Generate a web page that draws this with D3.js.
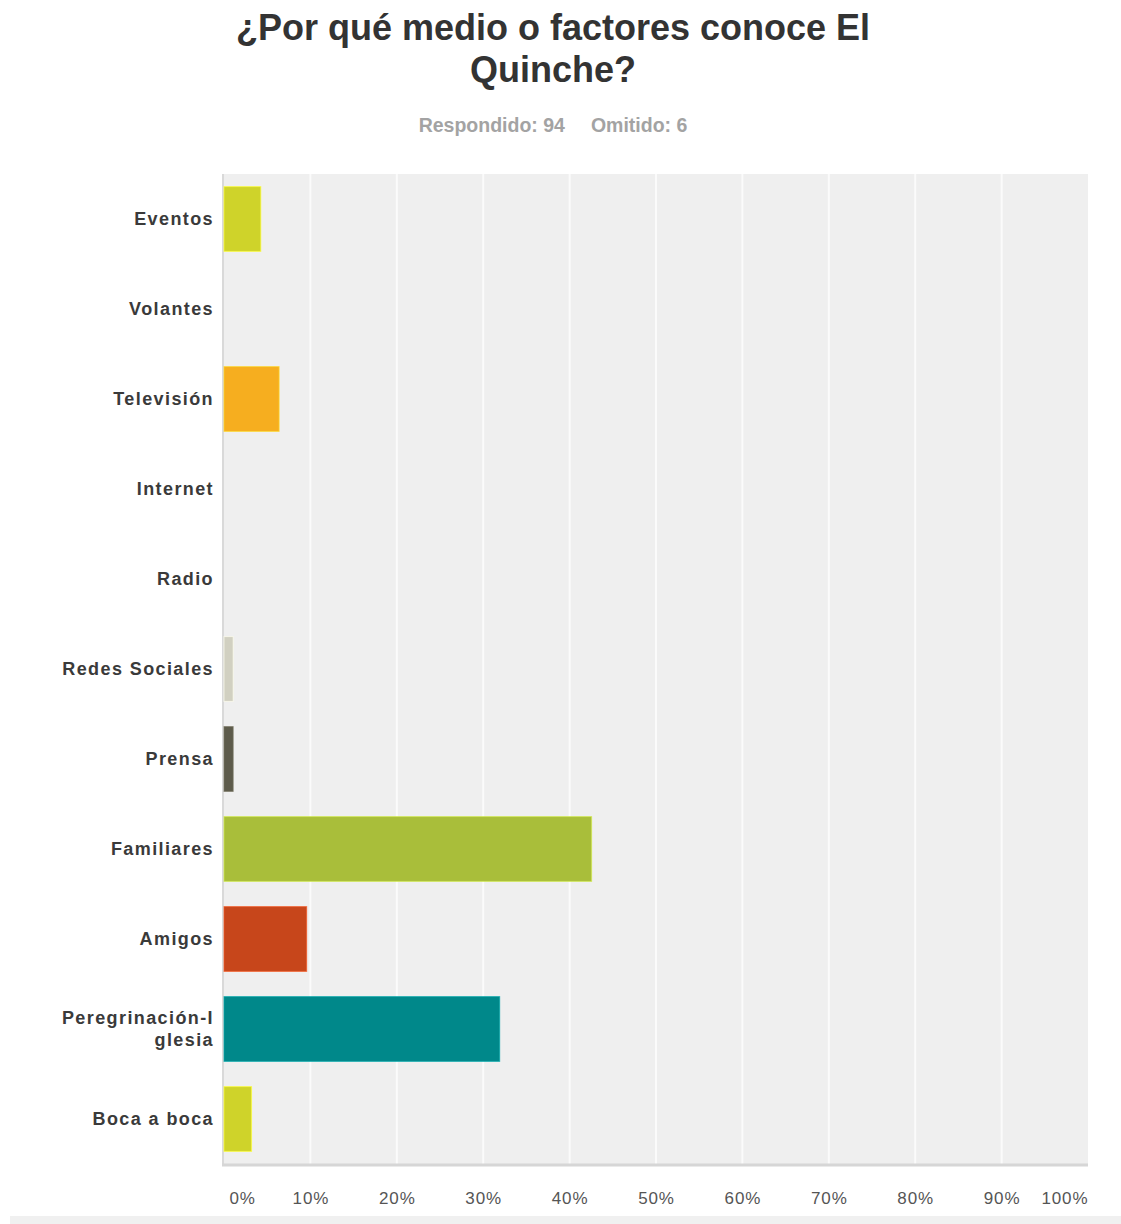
<!DOCTYPE html>
<html>
<head>
<meta charset="utf-8">
<script src="https://cdn.jsdelivr.net/npm/d3@7"></script>
<style>
  html, body { margin: 0; padding: 0; background: #ffffff; }
  svg { display: block; }
</style>
</head>
<body>
<svg id="chart" width="1121" height="1224"></svg>
<script>
// Survey answers: share of respondents per source (94 answered, 6 skipped)
const categories = [
  "Eventos", "Volantes", "Televisión", "Internet", "Radio",
  "Redes Sociales", "Prensa", "Familiares", "Amigos",
  "Peregrinación-Iglesia", "Boca a boca"
];
const percentages = [4.26, 0, 6.38, 0, 0, 1.06, 1.06, 42.55, 9.57, 31.91, 3.19];
const barColors = [
  "#cfd32a", "#cfd32a", "#f6ae1f", "#cfd32a", "#cfd32a",
  "#d1d0c1", "#5d5b4b", "#a9be3a", "#c7461b", "#00888a", "#cfd32a"
];
const tickValues = [0, 10, 20, 30, 40, 50, 60, 70, 80, 90, 100];
const titleLines = ["¿Por qué medio o factores conoce El", "Quinche?"];
const answeredText = "Respondido: 94";
const skippedText = "Omitido: 6";

const svg = d3.select("#chart");
const plot = { left: 224, right: 1088, top: 174, bottom: 1164 };

const x = d3.scaleLinear().domain([0, 100]).range([plot.left, plot.right]);
const y = d3.scaleBand().domain(categories)
  .range([plot.top, plot.bottom])
  .paddingInner(0.28).paddingOuter(0.14);

// Title
svg.append("g").selectAll("text").data(titleLines).join("text")
  .attr("x", 553).attr("y", (d, i) => 40 + i * 42)
  .attr("text-anchor", "middle")
  .attr("font-family", "'Liberation Sans', Arial, sans-serif")
  .attr("font-weight", "bold").attr("font-size", 36)
  .attr("fill", "#333333")
  .text(d => d);

// Answered / skipped counts
const sub = svg.append("text")
  .attr("x", 553).attr("y", 132)
  .attr("text-anchor", "middle")
  .attr("font-family", "'Liberation Sans', Arial, sans-serif")
  .attr("font-weight", "bold").attr("font-size", 19.5)
  .attr("fill", "#a3a3a3");
sub.append("tspan").text(answeredText);
sub.append("tspan").attr("dx", 26).text(skippedText);

// Plot background
svg.append("rect")
  .attr("x", plot.left).attr("y", plot.top)
  .attr("width", plot.right - plot.left).attr("height", plot.bottom - plot.top)
  .attr("fill", "#efefef");

// Vertical grid lines
svg.append("g").selectAll("line").data(tickValues.slice(1, -1)).join("line")
  .attr("x1", d => x(d)).attr("x2", d => x(d))
  .attr("y1", plot.top).attr("y2", plot.bottom)
  .attr("stroke", "#fbfbfb").attr("stroke-width", 2);

// Left and bottom frame
svg.append("line")
  .attr("x1", plot.left - 1).attr("x2", plot.left - 1)
  .attr("y1", plot.top).attr("y2", plot.bottom + 2)
  .attr("stroke", "#d9d9d9").attr("stroke-width", 2);
svg.append("line")
  .attr("x1", plot.left - 2).attr("x2", plot.right)
  .attr("y1", plot.bottom + 1).attr("y2", plot.bottom + 1)
  .attr("stroke", "#d6d6d6").attr("stroke-width", 3);

// Bars
svg.append("g").selectAll("rect").data(categories).join("rect")
  .attr("x", x(0))
  .attr("y", d => y(d))
  .attr("width", (d, i) => x(percentages[i]) - x(0))
  .attr("height", y.bandwidth())
  .attr("fill", (d, i) => barColors[i])
  .attr("stroke", (d, i) => d3.color(barColors[i]).brighter(0.6))
  .attr("stroke-width", (d, i) => percentages[i] > 0 ? 1 : 0)
  .attr("stroke-opacity", 0.7);

// Category labels, wrapped at 15 characters
function wrapLabel(s, n) {
  const out = [];
  for (let i = 0; i < s.length; i += n) out.push(s.slice(i, i + n));
  return out;
}
const labels = svg.append("g")
  .attr("font-family", "'Liberation Sans', Arial, sans-serif")
  .attr("font-weight", "bold").attr("font-size", 18)
  .attr("letter-spacing", "1.4px")
  .attr("fill", "#3a3a3a")
  .attr("text-anchor", "end");
labels.selectAll("text").data(categories).join("text")
  .each(function (d) {
    const lines = wrapLabel(d, 15);
    const cy = y(d) + y.bandwidth() / 2;
    const lh = 22;
    const t = d3.select(this);
    lines.forEach((ln, k) => {
      t.append("tspan")
        .attr("x", 214)
        .attr("y", cy + 6 + (k - (lines.length - 1) / 2) * lh)
        .text(ln);
    });
  });

// X axis
const axis = d3.axisBottom(x).tickValues(tickValues)
  .tickFormat(d => d + "%").tickSize(0).tickPadding(0);
const gx = svg.append("g").attr("transform", `translate(0, 1204)`).call(axis);
gx.select(".domain").remove();
gx.selectAll("text")
  .attr("dy", 0)
  .attr("font-family", "'Liberation Sans', Arial, sans-serif")
  .attr("font-size", 17).attr("letter-spacing", "0.9px")
  .attr("fill", "#555555")
  .attr("text-anchor", d => d === 0 ? "start" : d === 100 ? "end" : "middle")
  .attr("dx", d => d === 0 ? 5 : 0);

// Footer band
svg.append("rect")
  .attr("x", 10).attr("y", 1216).attr("width", 1111).attr("height", 8)
  .attr("fill", "#f0f0f0");
</script>
</body>
</html>
